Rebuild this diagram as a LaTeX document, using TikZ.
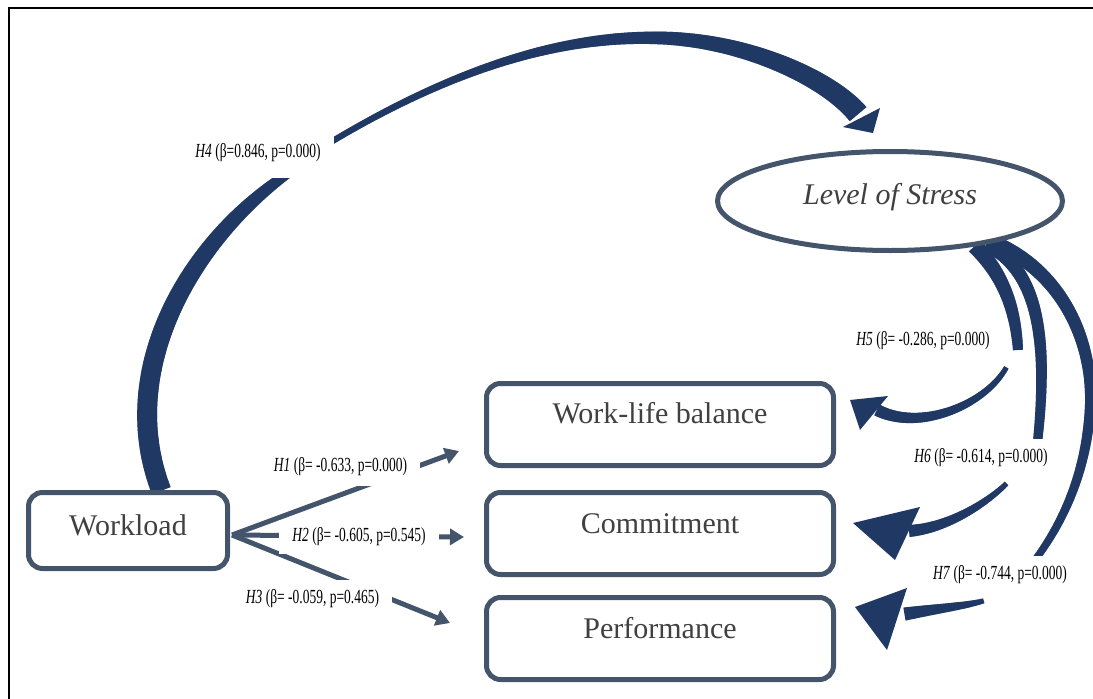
\documentclass[tikz,border=0pt]{standalone}
\usepackage{fontspec}
\setmainfont{Liberation Serif}
\newfontfamily\condfont[FakeStretch=0.675]{Liberation Serif}
\usetikzlibrary{arrows.meta,decorations.markings,backgrounds,shapes.geometric,calc}
\definecolor{slate}{HTML}{44546A}
\definecolor{navy}{HTML}{1F3864}
\definecolor{txtgray}{HTML}{404040}
\tikzset{
  tapr/.style n args={3}{postaction={decorate,decoration={markings,
      mark=between positions 0 and 1 step 1pt with {%
        \pgfmathsetmacro\tprw{0.5*(#1+(#2-(#1))*pow(max(\pgfkeysvalueof{/pgf/decoration/mark info/distance from start}/\pgfdecoratedpathlength,0.0001),#3))}%
        \fill[navy] (-0.8pt,-\tprw pt) rectangle (0.8pt,\tprw pt);}}}},
  box/.style={draw=slate, line width=5pt, rounded corners=14pt, fill=white,
    text=txtgray, font=\fontsize{30pt}{36pt}\selectfont, inner sep=0pt,
    minimum width=347pt, minimum height=82pt, text height=25pt},
  lbl/.style={fill=white, inner xsep=13pt, inner ysep=10pt, text=black,
    font=\condfont\fontsize{20pt}{24pt}\selectfont},
  fan/.style={draw=slate, line width=5pt, -{Triangle[length=14pt,width=16pt]}},
  head/.style={fill=navy},
}
\begin{document}
\begin{tikzpicture}[x=1pt,y=-1pt]
\useasboundingbox (0,0) rectangle (1093,699);

% nodes
\node[box, text depth=28pt] (wlb) at (660,424.5) {Work-life balance};
\node[box, text depth=26pt] (com) at (660,533.5) {Commitment};
\node[box, text depth=26pt] (perf) at (660,638.5) {Performance};
\node[box, minimum width=199pt, minimum height=76pt, text depth=16pt] (wl) at (128,530.5) {Workload};
\node[ellipse, draw=slate, line width=5pt, fill=white, text=txtgray,
  minimum width=345pt, minimum height=99pt, inner sep=0pt,
  text height=22pt, text depth=16pt,
  font=\itshape\fontsize{30pt}{36pt}\selectfont] (los) at (890,201) {Level of Stress};

% labels
\node[lbl, inner ysep=16pt] (l4) at (258,153) {\textit{H4} (β=0.846, p=0.000)};
\node[lbl] (l5) at (923,341) {\textit{H5} (β= -0.286, p=0.000)};
\node[lbl] (l6) at (981,458) {\textit{H6} (β= -0.614, p=0.000)};
\node[lbl] (l7) at (1000,575) {\textit{H7} (β= -0.744, p=0.000)};
\node[lbl] (l1) at (340.5,467) {\textit{H1} (β= -0.633, p=0.000)};
\node[lbl, inner ysep=8pt] (l2) at (359,537) {\textit{H2} (β= -0.605, p=0.545)};
\node[lbl] (l3) at (312.5,599) {\textit{H3} (β= -0.059, p=0.465)};

% coordinates
\coordinate (fo) at ($(wl.east)+(2,4.5)$);
\coordinate (t1) at (459,451);
\coordinate (t2) at (464,537);
\coordinate (t3) at (450,623);
\coordinate (h4b) at (290,172);
\coordinate (h4c) at (326,145);
\coordinate (h4d) at (858,114);
\coordinate (h5m) at (1018,350);
\coordinate (h5s) at (1006,368);
\coordinate (h5e) at (877,410);
\coordinate (h6m) at (1037,447);
\coordinate (h6s) at (1006,484);
\coordinate (h6e) at (909,531);
\coordinate (h7m) at (1035,560);
\coordinate (h7s) at (983,601);
\coordinate (h7e) at (905,614);

\begin{pgfonlayer}{background}
  % frame
  \draw[line width=2.5pt] (9,699) -- (9,8) -- (1093,8);
  % fan
  \draw[fan] (fo) -- (t1);
  \draw[fan] (fo) -- (t2);
  \draw[fan] (fo) -- (t3);
  % H4
  \path[tapr={20}{9}{3}] ($(wl.north)+(33,0)$) .. controls (115,370) and (190,240) .. (h4b);
  \path[tapr={6}{22}{1.8}] (h4c) .. controls (450,70) and (560,35) .. (660,38)
       .. controls (745,40) and (828,78) .. (h4d);
  \fill[head] (843,127) -- (880,108) -- (873,133) -- cycle;
  % H7
  \path[tapr={15}{7}{1}] (los.-22) .. controls (1060,270) and (1095,340) .. (1090,410)
       .. controls (1086,470) and (1065,520) .. (h7m);
  \path[tapr={5}{13}{1}] (h7s) .. controls (965,606) and (935,609) .. (h7e);
  \fill[head] (855,607) -- (907,588) -- (887,650) -- cycle;
  % H6
  \path[tapr={14}{9}{1}] (los.-24) .. controls (1035,270) and (1050,330) .. (h6m);
  \path[tapr={5}{12}{1}] (h6s) .. controls (990,500) and (950,528) .. (h6e);
  \fill[head] (853,523) -- (920,507) -- (895,560) -- cycle;
  % H5
  \path[tapr={16}{10}{1}] (los.-28) .. controls (998,270) and (1015,300) .. (h5m);
  \path[tapr={5}{12}{1}] (h5s) .. controls (985,405) and (920,432) .. (h5e);
  \fill[head] (850,400) -- (888,396) -- (860,430) -- cycle;
\end{pgfonlayer}
\end{tikzpicture}
\end{document}
